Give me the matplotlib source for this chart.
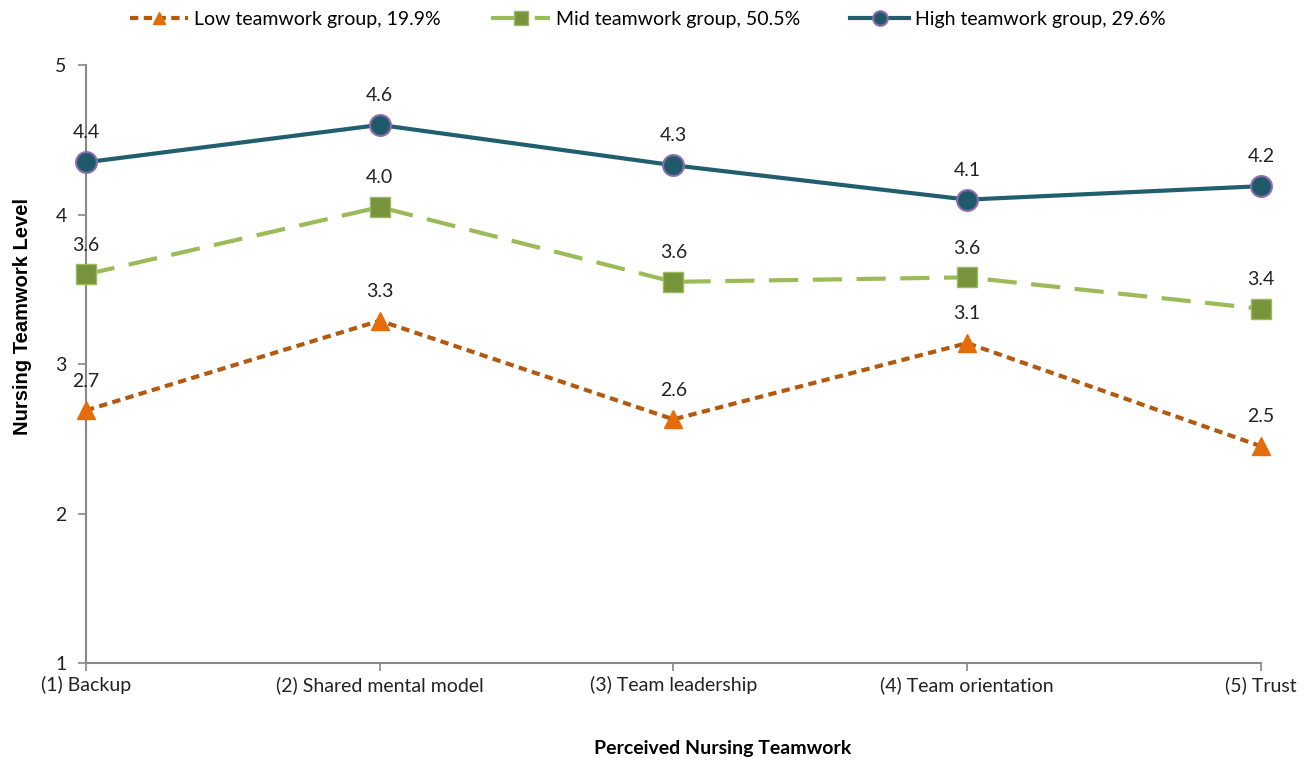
import matplotlib.pyplot as plt

# Data
categories = ['(1) Backup', '(2) Shared mental model', '(3) Team leadership',
              '(4) Team orientation', '(5) Trust']
low = [2.69, 3.29, 2.63, 3.14, 2.45]
mid = [3.60, 4.05, 3.55, 3.58, 3.37]
high = [4.35, 4.60, 4.33, 4.10, 4.19]
low_labels = ['2.7', '3.3', '2.6', '3.1', '2.5']
mid_labels = ['3.6', '4.0', '3.6', '3.6', '3.4']
high_labels = ['4.4', '4.6', '4.3', '4.1', '4.2']
series_names = ['Low teamwork group, 19.9%', 'Mid teamwork group, 50.5%',
                'High teamwork group, 29.6%']

plt.rcParams['font.family'] = ['Lato', 'DejaVu Sans']

fig = plt.figure(figsize=(13.09, 7.66), dpi=100)
ax = fig.add_axes([0.0657, 0.1345, 0.8976, 0.7805])

x = list(range(len(categories)))

ax.plot(x, low, color='#B35A10', lw=3, ls=(0, (2, 1.3)), marker='^',
        markersize=13, markerfacecolor='#E46C0A', markeredgecolor='#E46C0A',
        label=series_names[0], zorder=3, clip_on=False)
ax.plot(x, mid, color='#9BBB59', lw=3, ls=(0, (7, 3.5)), marker='s',
        markersize=14, markerfacecolor='#77933C', markeredgecolor='#9BBB59',
        label=series_names[1], zorder=3, clip_on=False)
ax.plot(x, high, color='#215F6E', lw=3, marker='o',
        markersize=15, markerfacecolor='#1F5A6B', markeredgecolor='#8E6BB0',
        markeredgewidth=1.5, label=series_names[2], zorder=3, clip_on=False)

for vals, labs in [(low, low_labels), (mid, mid_labels), (high, high_labels)]:
    for xi, v, s in zip(x, vals, labs):
        ax.annotate(s, (xi, v), xytext=(0, 15), textcoords='offset points',
                    ha='center', va='bottom', fontsize=14, color='#222222')

ax.set_xlim(0, 4)
ax.set_ylim(1, 5)
ax.set_yticks([1, 2, 3, 4, 5])
ax.set_xticks(x)
ax.set_xticklabels(categories)

for side in ['top', 'right']:
    ax.spines[side].set_visible(False)
for side in ['left', 'bottom']:
    ax.spines[side].set_color('#888888')
    ax.spines[side].set_linewidth(1.5)
ax.tick_params(axis='both', colors='#888888', length=6, width=1.2,
               labelsize=14, labelcolor='#222222')
ax.tick_params(axis='y', pad=8)

ax.set_ylabel('Nursing Teamwork Level', fontsize=14.5, fontweight='bold',
              family=['Liberation Sans', 'DejaVu Sans'])
ax.yaxis.set_label_coords(-0.046, 0.58)
fig.text(0.552, 0.012, 'Perceived Nursing Teamwork', ha='center', va='bottom',
         fontsize=14, fontweight='bold')

ax.legend(loc='upper center', bbox_to_anchor=(0.478, 1.12), ncol=3,
          frameon=False, fontsize=14, handlelength=3.0, columnspacing=2.6,
          handletextpad=0.3, markerscale=0.7)

plt.savefig('out.png', dpi=100)
